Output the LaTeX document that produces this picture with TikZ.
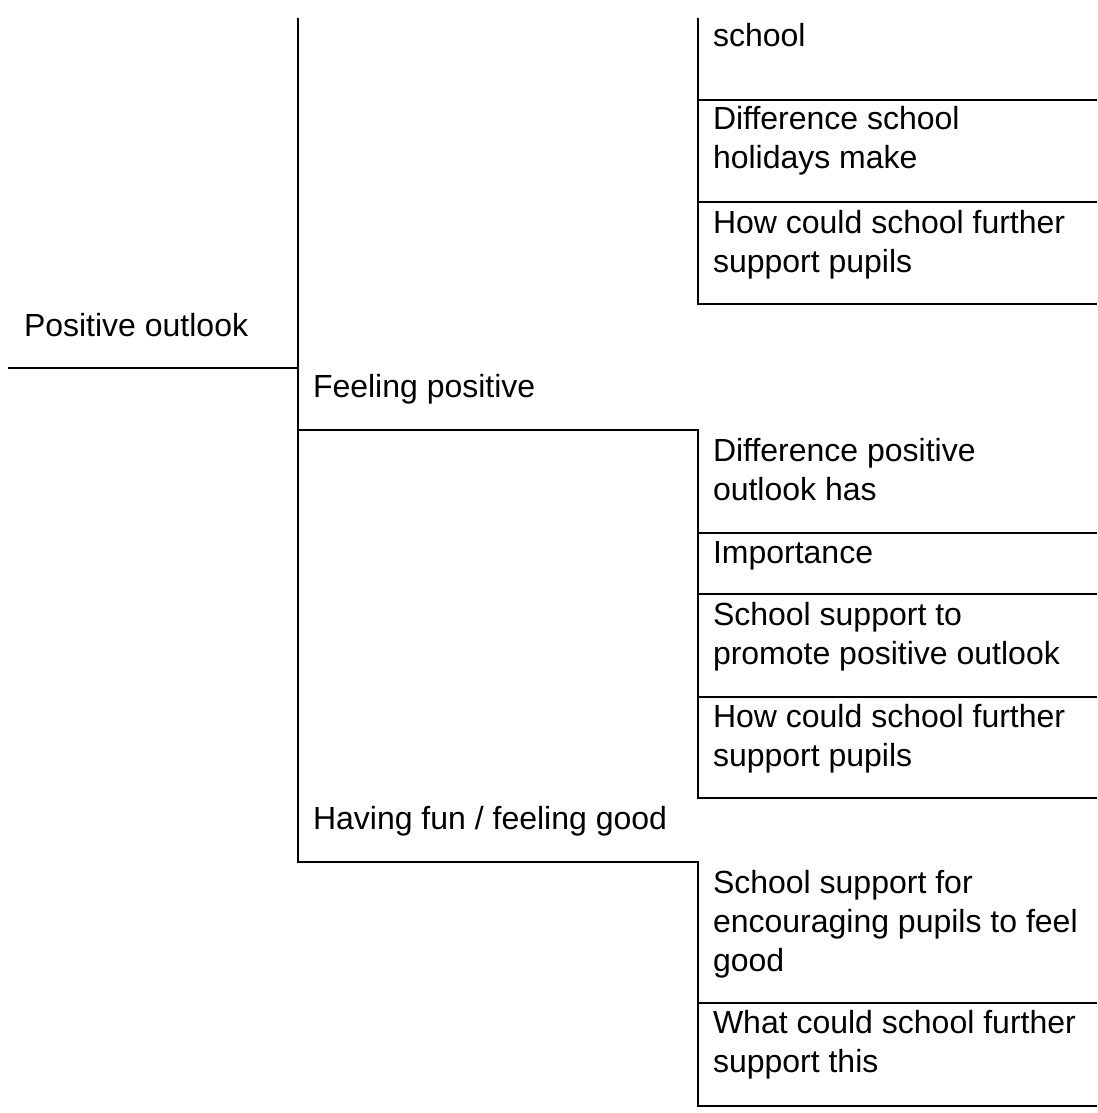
\documentclass[tikz,border=0pt]{standalone}
\usepackage{fontspec}
\setmainfont{Liberation Sans}
\newcommand\linesof[1]{\begin{tabular}[t]{@{}l@{}}#1\end{tabular}}
\begin{document}
\begin{tikzpicture}[x=1pt,y=-1pt,
  lbl/.style={anchor=base west,inner sep=0pt,outer sep=0pt,font=\fontsize{32}{39}\selectfont},
  rule/.style={line width=2.6pt,black,line join=miter}]
\path[use as bounding box] (0,0) rectangle (1097,1113);

% key points of the tree frame
\coordinate (spineTop) at (298,18);
\coordinate (spineBot) at (298,862);
\coordinate (rootEnd) at (8,368);
\coordinate (rootJoin) at (298,368);
\coordinate (fpJoin) at (298,430);
\coordinate (fpCorner) at (698,430);
\coordinate (fpBot) at (698,798);
\coordinate (hfCorner) at (698,862);
\coordinate (hfBot) at (698,1106);
\coordinate (topCol) at (698,18);
\coordinate (topBot) at (698,304);
\coordinate (rightEdge) at (1097,0);

% labels
\node[lbl] (n0) at (24,336) {Positive outlook};
\node[lbl] (n1) at (313,397) {Feeling positive};
\node[lbl] (n2) at (313,829) {Having fun / feeling good};

\node[lbl] (a0) at (713,47) {school};
\node[lbl] (a1) at (713,130) {\linesof{Difference school\\holidays make}};
\node[lbl] (a2) at (713,233) {\linesof{How could school further\\support pupils}};

\node[lbl] (b1) at (713,461) {\linesof{Difference positive\\outlook has}};
\node[lbl] (b2) at (713,563) {Importance};
\node[lbl] (b3) at (713,625) {\linesof{School support to\\promote positive outlook}};
\node[lbl] (b4) at (713,727) {\linesof{How could school further\\support pupils}};

\node[lbl] (c1) at (713,893) {\linesof{School support for\\encouraging pupils to feel\\good}};
\node[lbl] (c2) at (713,1033) {\linesof{What could school further\\support this}};

% frame
\draw[rule] (rootEnd) -- (rootJoin);
\draw[rule] (spineTop) -- (spineBot) -- (hfCorner) -- (hfBot) -- (hfBot -| rightEdge);
\draw[rule] (fpJoin) -- (fpCorner) -- (fpBot) -- (fpBot -| rightEdge);
\draw[rule] (topCol) -- (topBot) -- (topBot -| rightEdge);

% row separators in the right column
\foreach \yy in {100,202,533,594,697,1003}
  \draw[rule] (698,\yy) -- (1097,\yy);
\end{tikzpicture}
\end{document}
